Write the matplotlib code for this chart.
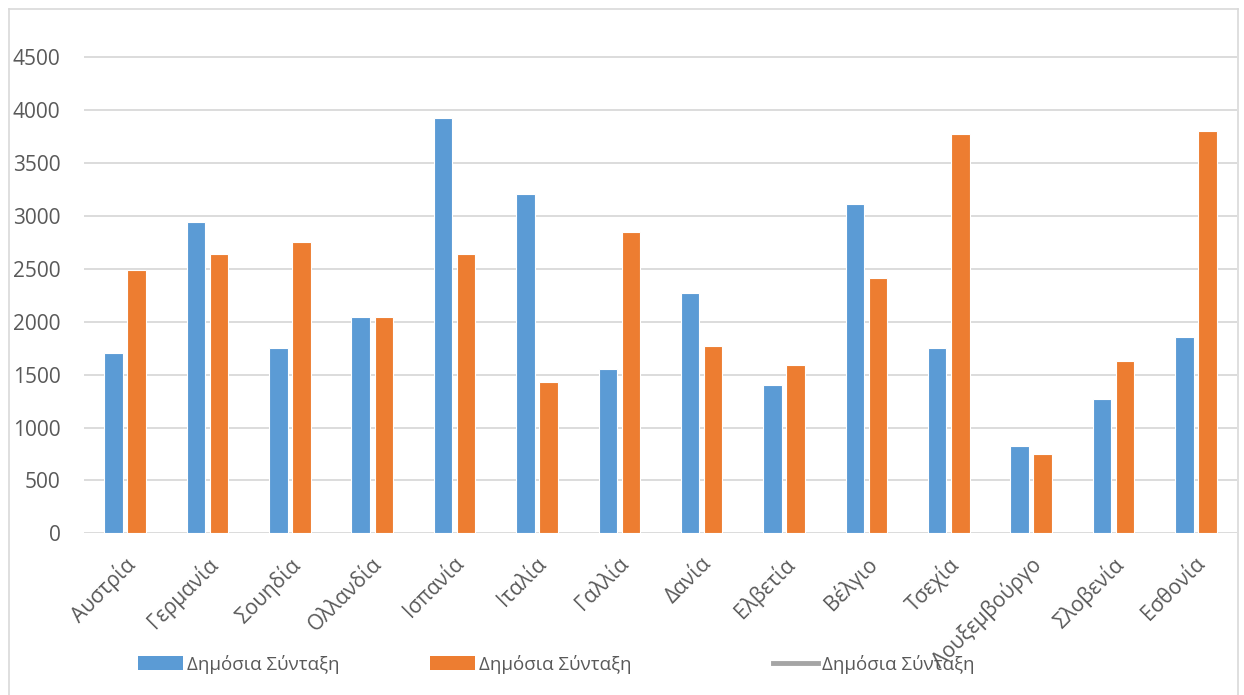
import matplotlib
matplotlib.use("Agg")
import matplotlib.pyplot as plt
import matplotlib.transforms as mtransforms
import numpy as np
from matplotlib.patches import Patch
from matplotlib.lines import Line2D

plt.rcParams['font.family'] = ['Open Sans', 'DejaVu Sans']

countries = ["Αυστρία", "Γερμανία", "Σουηδία", "Ολλανδία", "Ισπανία", "Ιταλία", "Γαλλία",
             "Δανία", "Ελβετία", "Βέλγιο", "Τσεχία", "Λουξεμβούργο", "Σλοβενία", "Εσθονία"]
series_blue = [1700, 2945, 1750, 2045, 3925, 3210, 1555, 2270, 1400, 3110, 1750, 825, 1265, 1855]
series_orange = [2490, 2640, 2750, 2045, 2640, 1430, 2850, 1770, 1590, 2410, 3775, 750, 1630, 3805]
series_name = "Δημόσια Σύνταξη"
yticks = [0, 500, 1000, 1500, 2000, 2500, 3000, 3500, 4000, 4500]

BLUE = "#5B9BD5"
ORANGE = "#ED7D31"
GRAY = "#A5A5A5"
TEXT = "#595959"
GRID = "#D9D9D9"
FS = 13.5

W, H = 1244, 695
fig = plt.figure(figsize=(W / 100, H / 100), dpi=100)
ax = fig.add_axes([84 / W, (H - 533.3) / H, (1237 - 84) / W, (533.3 - 9) / H])

x = np.arange(len(countries))
bw = 0.225
ax.bar(x - 0.14, series_blue, bw, color=BLUE, edgecolor="white", linewidth=0.8, zorder=3)
ax.bar(x + 0.14, series_orange, bw, color=ORANGE, edgecolor="white", linewidth=0.8, zorder=3)
ax.plot([], [], color=GRAY, linewidth=3)

ax.set_xlim(-0.5, len(countries) - 0.5)
ax.set_ylim(0, 4956)
ax.set_yticks(yticks)
ax.yaxis.grid(True, color=GRID, linewidth=1.3, zorder=0)
ax.set_axisbelow(True)
for s in ax.spines.values():
    s.set_visible(False)
ax.tick_params(axis="both", length=0, labelsize=15, labelcolor=TEXT)
ax.tick_params(axis="y", pad=17)
ax.set_xticks(x)
ax.set_xticklabels(countries, rotation=45, ha="right", rotation_mode="anchor", fontsize=15)
ax.tick_params(axis="x", pad=10)
shift = mtransforms.ScaledTranslation(-1 / 100, -6 / 100, fig.dpi_scale_trans)
for lbl in ax.get_xticklabels():
    lbl.set_transform(lbl.get_transform() + shift)

# chart border
fig.add_artist(Line2D([9 / W, 9 / W], [0, (H - 9) / H], color=GRID, linewidth=1.2))
fig.add_artist(Line2D([9 / W, 1238 / W], [(H - 9) / H, (H - 9) / H], color=GRID, linewidth=1.2))
fig.add_artist(Line2D([1238 / W, 1238 / W], [0, (H - 9) / H], color=GRID, linewidth=1.2))

# legend entries placed separately
handles = [Patch(facecolor=BLUE), Patch(facecolor=ORANGE), Line2D([], [], color=GRAY, linewidth=3.5)]
for h, xpos in zip(handles, [138, 430, 773]):
    leg = fig.legend([h], [series_name], loc="center left",
                     bbox_to_anchor=(xpos / W, (H - 664) / H), frameon=False,
                     fontsize=FS, borderpad=0, borderaxespad=0,
                     handlelength=2.4, handleheight=0.8, handletextpad=0.2)
    for t in leg.get_texts():
        t.set_color(TEXT)

fig.savefig("out.png", dpi=100)
